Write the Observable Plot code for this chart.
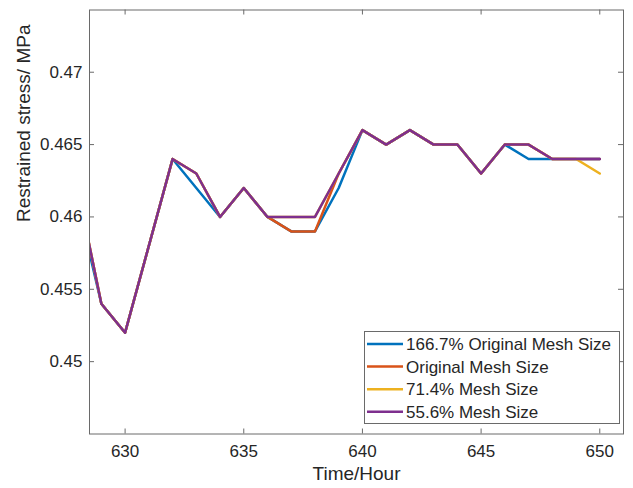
<!DOCTYPE html>
<html>
<head>
<meta charset="utf-8">
<script src="https://cdn.jsdelivr.net/npm/d3@7"></script>
<script src="https://cdn.jsdelivr.net/npm/@observablehq/plot@0.6"></script>
<style>
  html, body { margin: 0; padding: 0; background: #fff; }
  svg { display: block; }
</style>
</head>
<body>
<script>
// Restrained stress over time for four mesh sizes
const hours = [628, 629, 630, 631, 632, 633, 634, 635, 636, 637, 638, 639,
               640, 641, 642, 643, 644, 645, 646, 647, 648, 649, 650];

const mesh1667 = [0.461, 0.454, 0.452, 0.458, 0.464, 0.462, 0.460, 0.462, 0.460, 0.459, 0.459, 0.462,
                  0.466, 0.465, 0.466, 0.465, 0.465, 0.463, 0.465, 0.464, 0.464, 0.464, 0.464];
const meshOriginal = [0.462, 0.454, 0.452, 0.458, 0.464, 0.463, 0.460, 0.462, 0.460, 0.459, 0.459, 0.463,
                      0.466, 0.465, 0.466, 0.465, 0.465, 0.463, 0.465, 0.465, 0.464, 0.464, 0.464];
const mesh714 = [0.462, 0.454, 0.452, 0.458, 0.464, 0.463, 0.460, 0.462, 0.460, 0.460, 0.460, 0.463,
                 0.466, 0.465, 0.466, 0.465, 0.465, 0.463, 0.465, 0.465, 0.464, 0.464, 0.463];
const mesh556 = [0.462, 0.454, 0.452, 0.458, 0.464, 0.463, 0.460, 0.462, 0.460, 0.460, 0.460, 0.463,
                 0.466, 0.465, 0.466, 0.465, 0.465, 0.463, 0.465, 0.465, 0.464, 0.464, 0.464];

const seriesNames = ["166.7% Original Mesh Size", "Original Mesh Size", "71.4% Mesh Size", "55.6% Mesh Size"];
const seriesValues = [mesh1667, meshOriginal, mesh714, mesh556];
const seriesColors = ["#0072BD", "#D95319", "#EDB120", "#7E2F8E"];

const xTicks = [630, 635, 640, 645, 650];
const yTicks = [0.45, 0.455, 0.46, 0.465, 0.47];

const xLabel = "Time/Hour";
const yLabel = "Restrained stress/ MPa";

const axisColor = "#6a6a6a";
const textColor = "#262626";
const font = "'Liberation Sans', Arial, Helvetica, sans-serif";

const rows = seriesNames.flatMap((name, s) =>
  hours.map((h, i) => ({series: name, hour: h, value: seriesValues[s][i]}))
);

const fmtY = d => String(+d.toFixed(3));

// frame geometry
const W = 633, H = 488;
const mL = 89, mR = 10, mT = 9.5, mB = 54.5;
const xDom = [628.5, 651];
const yDom = [0.445, 0.4743];
const tickLen = 5;
// tick length expressed in each scale's units
const xTick = tickLen * (xDom[1] - xDom[0]) / (W - mL - mR);
const yTick = tickLen * (yDom[1] - yDom[0]) / (H - mT - mB);

const tickStyle = {stroke: axisColor, strokeWidth: 1};

const chart = Plot.plot({
  width: W,
  height: H,
  marginLeft: mL,
  marginRight: mR,
  marginTop: mT,
  marginBottom: mB,
  style: {fontFamily: font, background: "#fff", color: textColor},
  x: {domain: xDom},
  y: {domain: yDom},
  marks: [
    // one line per mesh size, drawn in legend order
    ...seriesNames.map((name, s) =>
      Plot.line(rows.filter(d => d.series === name), {
        x: "hour", y: "value", stroke: seriesColors[s], strokeWidth: 2.5, clip: true
      })
    ),
    // inward ticks on every side of the box
    Plot.ruleX(xTicks, {x: d => d, y1: yDom[0], y2: yDom[0] + yTick, ...tickStyle}),
    Plot.ruleX(xTicks, {x: d => d, y1: yDom[1], y2: yDom[1] - yTick, ...tickStyle}),
    Plot.ruleY(yTicks, {y: d => d, x1: xDom[0], x2: xDom[0] + xTick, ...tickStyle}),
    Plot.ruleY(yTicks, {y: d => d, x1: xDom[1], x2: xDom[1] - xTick, ...tickStyle}),
    // tick labels
    Plot.axisX(xTicks, {anchor: "bottom", tickSize: 0, tickPadding: 11, fontSize: 17, fill: textColor, label: null}),
    Plot.axisY(yTicks, {anchor: "left", tickSize: 0, tickPadding: 7, fontSize: 17, fill: textColor, label: null, tickFormat: fmtY}),
    // axis titles
    Plot.text([xLabel], {frameAnchor: "bottom", dy: 46, fontSize: 19, fill: textColor}),
    Plot.text([yLabel], {frameAnchor: "left", dx: -66, rotate: -90, fontSize: 19, fill: textColor}),
    Plot.frame({stroke: axisColor, strokeWidth: 1})
  ]
});

document.body.appendChild(chart);

// legend box in the lower right corner of the axes
const svg = d3.select(chart);
const lg = svg.append("g")
  .attr("font-family", font)
  .attr("font-size", 17)
  .attr("text-anchor", "start");
lg.append("rect")
  .attr("x", 364.5).attr("y", 331.5).attr("width", 255).attr("height", 92)
  .attr("fill", "#fff").attr("stroke", axisColor).attr("stroke-width", 1);
seriesNames.forEach((name, i) => {
  const y = 344 + i * 22.6;
  lg.append("line")
    .attr("x1", 367).attr("x2", 403).attr("y1", y).attr("y2", y)
    .attr("stroke", seriesColors[i]).attr("stroke-width", 2.5);
  lg.append("text")
    .attr("x", 406).attr("y", y).attr("dy", "0.35em")
    .attr("text-anchor", "start")
    .attr("fill", textColor).text(name);
});
</script>
</body>
</html>
